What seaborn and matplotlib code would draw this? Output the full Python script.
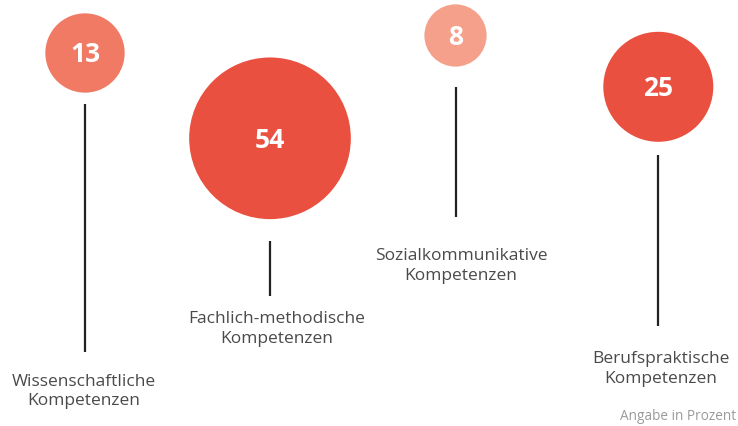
import matplotlib
matplotlib.use("Agg")
import matplotlib.pyplot as plt
import seaborn as sns
import pandas as pd
import numpy as np

# Data: share of each competence area (percent)
categories = [
    "Wissenschaftliche\nKompetenzen",
    "Fachlich-methodische\nKompetenzen",
    "Sozialkommunikative\nKompetenzen",
    "Berufspraktische\nKompetenzen",
]
values = [13, 54, 8, 25]
note = "Angabe in Prozent"

# Layout (pixel coordinates, y grows downwards)
center_x = [85, 270, 455.5, 658.3]
center_y = [53, 138.3, 35.5, 86.8]
stem_top = [104, 241, 87, 155]
stem_bottom = [352, 296, 217, 326]
label_x = [83.5, 277, 461, 661]
label_y = [391.5, 329, 266, 369]
colors = ["#F07A64", "#E9503F", "#F4A08A", "#E9503F"]

W, H, DPI = 738, 426, 100
sns.set_theme(style="white")
plt.rcParams["font.family"] = ["Open Sans", "DejaVu Sans"]

fig = plt.figure(figsize=(W / DPI, H / DPI), dpi=DPI)
ax = fig.add_axes([0, 0, 1, 1])
ax.set_xlim(0, W)
ax.set_ylim(H, 0)
ax.axis("off")

df = pd.DataFrame({"cat": categories, "value": values,
                   "x": center_x, "y": center_y})

# circle area proportional to value: radius (px) = 11 * sqrt(value)
px_to_pt = 72 / DPI
area_per_unit = (2 * 11 * px_to_pt) ** 2
size_map = {v: area_per_unit * v for v in values}
sns.scatterplot(data=df, x="x", y="y", hue="cat", size="value",
                sizes=size_map, palette=dict(zip(categories, colors)),
                linewidth=0, legend=False, ax=ax, zorder=3)

ax.vlines(center_x, stem_top, stem_bottom, color="#222222", linewidth=1.6)

for cx, cy, v in zip(center_x, center_y, values):
    ax.text(cx, cy + 2, str(v), ha="center", va="center", color="white",
            fontsize=19, fontweight="bold", zorder=4)

for lx, ly, lab in zip(label_x, label_y, categories):
    ax.text(lx, ly, lab, ha="center", va="center", color="#4a4a4a",
            fontsize=12.5, linespacing=1.3)

ax.text(736, 417, note, ha="right", va="center", color="#9a9a9a",
        fontsize=9.8)

fig.savefig("out.png", dpi=DPI)
